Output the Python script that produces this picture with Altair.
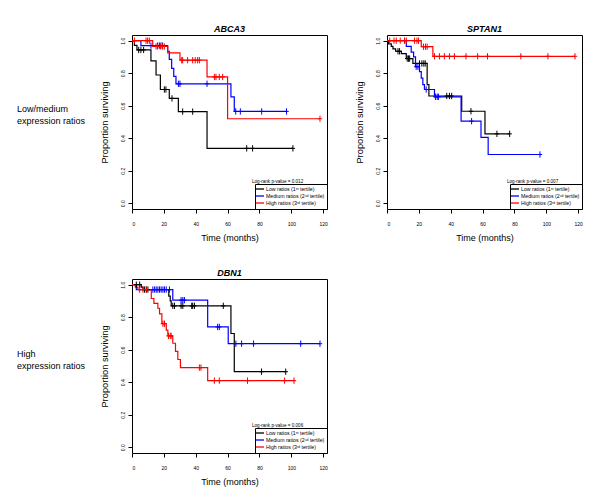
import altair as alt
import pandas as pd

FONT = "Liberation Sans"
GROUPS = ["Low ratios (1ˢᵗ tertile)", "Medium ratios (2ⁿᵈ tertile)", "High ratios (3ʳᵈ tertile)"]
COLORS = ["#000000", "#0000FF", "#FF0000"]
X_TICKS = [0, 20, 40, 60, 80, 100, 120]
Y_TICKS = [0.0, 0.2, 0.4, 0.6, 0.8, 1.0]
TITLES = ["ABCA3", "SPTAN1", "DBN1"]
PVALUES = ["Log-rank p-value = 0.012", "Log-rank p-value = 0.007", "Log-rank p-value = 0.006"]
ROW_LABELS = ["Low/medium\nexpression ratios", "High\nexpression ratios"]

# ---- ABCA3 ----
abca3_low_t = [1.5, 3.1, 11.9, 15.1, 17.8, 23.4, 29.1, 47.1]
abca3_low_s = [0.971, 0.943, 0.876, 0.789, 0.70, 0.645, 0.564, 0.338]
abca3_low_c = [4.2, 5.6, 7.3, 20.3, 21.3, 25.1, 31.8, 38.1, 72, 75.7, 101]
abca3_med_t = [5.6, 22.4, 23.4, 24.9, 26.2, 27.6, 62.1, 64.2]
abca3_med_s = [0.97, 0.935, 0.885, 0.83, 0.78, 0.735, 0.655, 0.565]
abca3_med_c = [11.9, 16.1, 17.2, 18.2, 19.2, 29.1, 30.1, 47.1, 65.1, 68, 81.4, 97]
abca3_high_t = [13.0, 22.4, 30.1, 47.1, 60.0]
abca3_high_s = [0.965, 0.925, 0.88, 0.777, 0.52]
abca3_high_c = [1.5, 8.8, 9.8, 10.9, 15.1, 16.1, 17.8, 19.2, 20.3, 31.2, 31.8, 34.9, 38.1,
                39.7, 41.2, 42.3, 51.7, 52.7, 54.8, 56.9, 118]

# ---- SPTAN1 ----
sptan1_low_t = [1.0, 2.7, 3.75, 5.4, 9.0, 12.1, 16.25, 25.2, 26.3, 46.9, 61.5]
sptan1_low_s = [0.98, 0.965, 0.95, 0.935, 0.92, 0.89, 0.86, 0.73, 0.66, 0.566, 0.427]
sptan1_low_c = [6.9, 7.9, 12.7, 13.5, 14.2, 20.4, 21.9, 23.1, 24.0, 37.5, 39.2, 40.6, 52.7, 69, 77]
sptan1_med_t = [12.1, 15.2, 16.7, 17.9, 20.4, 21.5, 22.5, 23.5, 29.8, 46.5, 59.0, 63.5]
sptan1_med_s = [0.965, 0.93, 0.90, 0.84, 0.81, 0.77, 0.73, 0.70, 0.655, 0.505, 0.405, 0.30]
sptan1_med_c = [18.3, 19.4, 24.6, 30.4, 31.5, 32.3, 53.1, 96]
sptan1_high_t = [21.5, 28.8]
sptan1_high_s = [0.963, 0.904]
sptan1_high_c = [1.7, 4.4, 5.8, 8.3, 11.0, 12.1, 17.3, 18.8, 19.8, 22.9, 24.2, 25.2, 29.8, 32.9,
                 36.0, 39.2, 42.3, 49.6, 56.9, 63.1, 84, 101, 118]

# ---- DBN1 ----
dbn1_low_t = [5.8, 6.9, 23.1, 24.0, 24.6, 62.1, 64.2]
dbn1_low_s = [0.985, 0.97, 0.93, 0.90, 0.87, 0.70, 0.465]
dbn1_low_c = [2.7, 4.8, 7.9, 9.0, 10.0, 25.6, 26.7, 30.8, 31.9, 37.5, 38.1, 39.2, 57.3, 81.3, 96.5]
dbn1_med_t = [2.7, 25.6, 47.5, 60.4]
dbn1_med_s = [0.97, 0.905, 0.74, 0.637]
dbn1_med_c = [13.1, 14.2, 15.2, 16.25, 17.3, 18.3, 19.4, 20.4, 21.5, 23.5, 30.8, 31.9, 32.9,
              53.75, 54.8, 65.2, 68.8, 76.3, 105.9, 118]
dbn1_high_t = [2.1, 3.75, 12.1, 13.75, 16.25, 17.3, 18.75, 21.5, 22.5, 25.6, 27.3, 28.75, 30.4, 47.5]
dbn1_high_s = [0.985, 0.97, 0.915, 0.885, 0.855, 0.82, 0.76, 0.72, 0.685, 0.64, 0.59, 0.54, 0.49, 0.41]
dbn1_high_c = [4.8, 6.9, 9.0, 19.4, 20.4, 22.9, 24.0, 24.6, 42.3, 43.3, 51.7, 54.8, 72.5, 95.8, 101.7]

PANELS = [
    [(abca3_low_t, abca3_low_s, abca3_low_c), (abca3_med_t, abca3_med_s, abca3_med_c),
     (abca3_high_t, abca3_high_s, abca3_high_c)],
    [(sptan1_low_t, sptan1_low_s, sptan1_low_c), (sptan1_med_t, sptan1_med_s, sptan1_med_c),
     (sptan1_high_t, sptan1_high_s, sptan1_high_c)],
    [(dbn1_low_t, dbn1_low_s, dbn1_low_c), (dbn1_med_t, dbn1_med_s, dbn1_med_c),
     (dbn1_high_t, dbn1_high_s, dbn1_high_c)],
]


def surv_at(t, ev_t, ev_s):
    s = 1.0
    for et, es in zip(ev_t, ev_s):
        if et <= t:
            s = es
    return s


def frames(groups):
    line_rows, cens_rows = [], []
    for g, (ev_t, ev_s, cens) in zip(GROUPS, groups):
        order = 0
        line_rows.append({"group": g, "time": 0.0, "surv": 1.0, "o": order})
        for t, s in zip(ev_t, ev_s):
            order += 1
            line_rows.append({"group": g, "time": t, "surv": s, "o": order})
        end = max(list(ev_t) + list(cens))
        line_rows.append({"group": g, "time": end, "surv": surv_at(end, ev_t, ev_s), "o": order + 1})
        for c in cens:
            cens_rows.append({"group": g, "time": c, "surv": surv_at(c, ev_t, ev_s)})
    return pd.DataFrame(line_rows), pd.DataFrame(cens_rows)


W = 195
H = 174


def panel(idx):
    lines_df, cens_df = frames(PANELS[idx])
    x = alt.X("time:Q", scale=alt.Scale(domain=[0, 122.4], nice=False, zero=False),
              axis=alt.Axis(values=X_TICKS, format="d", title="Time (months)", grid=False, domain=False,
                            tickSize=4, tickColor="black", labelFontSize=5, labelPadding=8,
                            labelColor="black", labelFont=FONT, titleFont=FONT, titleFontSize=9,
                            titleFontWeight="normal", titleColor="black", titlePadding=7))
    y = alt.Y("surv:Q", scale=alt.Scale(domain=[-0.035, 1.035], nice=False, zero=False),
              axis=alt.Axis(values=Y_TICKS, format=".1f", title="Proportion surviving", grid=False,
                            domain=False, tickSize=4, tickColor="black", labelFontSize=5,
                            labelAngle=-90, labelAlign="center", labelBaseline="bottom",
                            labelPadding=2.5, labelColor="black", labelFont=FONT, titleFont=FONT,
                            titleFontSize=9.3, titleFontWeight="normal", titleColor="black",
                            titlePadding=11))
    color = alt.Color("group:N", scale=alt.Scale(domain=GROUPS, range=COLORS),
                      legend=alt.Legend(title=None, orient="bottom-right", offset=0, fillColor="white",
                                        strokeColor="black", padding=2, labelFontSize=5.2,
                                        labelFont=FONT, labelColor="black", symbolType="M-2,0H2",
                                        symbolSize=16, symbolStrokeWidth=1.3, rowPadding=0,
                                        labelOffset=3, labelLimit=200))
    line = alt.Chart(lines_df).mark_line(interpolate="step-after", strokeWidth=1.2).encode(
        x=x, y=y, color=color, order="o:Q")
    pts = alt.Chart(cens_df).mark_point(shape="M0,-1V1M-0.7,0H0.7", size=40, filled=False,
                                        strokeWidth=1, opacity=1).encode(x=x, y=y, color=color)
    ptxt = alt.Chart(pd.DataFrame({"t": [PVALUES[idx]]})).mark_text(
        align="left", baseline="middle", fontSize=4.6, font=FONT, color="black").encode(
        x=alt.value(120), y=alt.value(H - 27), text="t:N")
    return alt.layer(line, pts, ptxt).properties(
        width=W, height=H,
        title=alt.TitleParams(TITLES[idx], font=FONT, fontSize=9, fontWeight="bold", fontStyle="italic",
                              color="black", offset=1, anchor="middle"))


def row_label(text, yy):
    return alt.Chart(pd.DataFrame({"t": [text]})).mark_text(
        align="left", baseline="middle", fontSize=9, lineBreak="\n", lineHeight=12, font=FONT,
        color="black").encode(x=alt.value(0), y=alt.value(yy), text="t:N").properties(
        width=55, height=H, view=alt.ViewBackground(stroke="transparent"))


charts = [row_label(ROW_LABELS[0], 74), panel(0), panel(1), row_label(ROW_LABELS[1], 75), panel(2)]

chart = alt.concat(*charts, columns=3, spacing={"row": 70, "column": 60}, bounds="flush").resolve_scale(
    color="independent").resolve_legend(color="independent").properties(
    padding={"left": 8, "top": 16, "right": 0, "bottom": 0}).configure(font=FONT).configure_view(
    stroke="black", strokeWidth=1)

chart.save("out.html", embed_options={"renderer": "svg", "actions": False})
